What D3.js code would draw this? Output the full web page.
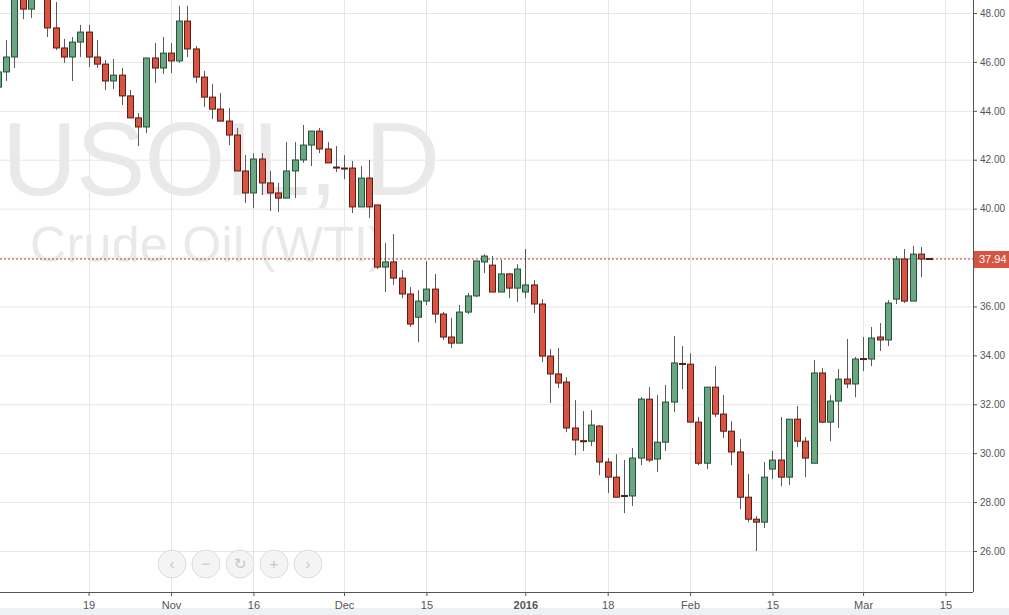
<!DOCTYPE html>
<html><head><meta charset="utf-8">
<script src="https://cdn.jsdelivr.net/npm/d3@7"></script>
<style>body{margin:0;background:#fff;font-family:Arial,"Liberation Sans",sans-serif}</style>
</head><body><svg id="c" width="1009" height="615"></svg>
<script>
const opens  = [44.97,45.59,46.20,48.70,48.16,49.20,48.60,47.39,46.57,46.20,46.81,47.22,46.20,45.91,45.22,45.46,44.61,43.71,43.34,46.16,45.75,46.36,46.04,47.67,46.53,45.38,44.56,44.07,43.58,43.01,41.54,40.64,42.03,41.05,40.64,40.43,41.54,41.99,42.60,43.17,42.44,41.70,41.66,41.66,40.07,41.25,40.15,37.61,37.82,37.16,36.51,35.56,36.22,36.71,35.69,34.75,34.50,35.77,36.43,37.82,37.69,36.59,37.33,36.75,36.59,36.88,36.10,33.97,33.24,32.91,31.03,30.51,30.49,31.11,29.64,29.02,28.27,28.25,29.80,32.21,29.76,30.45,32.09,33.67,33.64,31.27,29.59,32.70,31.60,30.90,30.05,28.20,27.30,27.18,29.35,29.72,29.02,31.39,30.49,29.59,33.28,31.27,32.13,33.03,32.83,33.87,33.85,34.75,34.63,36.30,37.94,36.22,38.14,37.96];
const highs  = [45.63,46.90,48.90,48.90,48.80,50.00,48.80,48.45,46.94,47.02,47.51,47.51,46.90,46.08,46.12,45.75,44.85,43.91,46.16,46.77,47.02,46.77,48.29,48.29,46.65,45.63,45.10,44.73,44.11,43.30,42.19,42.27,42.27,41.54,41.05,42.72,42.72,43.42,43.17,43.30,42.72,42.56,42.19,41.95,41.74,41.99,40.15,38.59,38.96,37.49,36.79,36.67,37.86,37.33,35.77,35.53,36.06,36.55,37.86,38.14,38.06,37.90,37.37,37.73,38.35,37.08,36.30,34.26,34.30,33.11,32.17,31.72,31.76,31.15,29.80,29.96,29.72,30.21,32.29,32.70,32.38,32.79,34.79,34.38,34.09,31.48,32.70,33.56,32.38,31.31,30.58,29.15,27.43,29.64,30.09,31.48,31.39,31.93,30.66,33.81,33.48,32.38,33.44,34.67,33.93,34.75,35.16,35.32,36.26,38.06,38.35,38.47,38.43,37.98];
const lows   = [44.89,45.22,45.75,47.75,47.80,48.75,47.02,46.49,45.96,45.22,46.20,45.79,45.75,44.85,44.89,44.24,43.71,42.56,43.09,45.14,45.51,45.55,45.96,46.20,45.14,44.16,43.66,43.58,42.60,41.54,40.23,40.02,40.56,39.90,39.86,40.43,40.43,41.87,41.74,42.27,41.87,41.50,41.21,39.82,40.07,39.62,37.53,36.59,36.88,36.34,35.16,34.54,36.06,35.32,34.63,34.30,34.50,35.69,36.38,37.37,36.59,36.59,36.34,36.18,36.34,35.73,33.73,32.05,32.66,30.86,29.92,30.09,30.29,29.10,28.37,28.20,27.55,27.84,29.51,29.64,29.23,30.09,31.68,32.62,31.27,29.51,29.35,31.48,30.62,29.51,27.71,27.18,26.00,26.94,28.94,28.65,28.70,30.25,29.02,29.59,31.23,30.49,31.03,32.66,32.29,33.36,33.56,34.18,34.38,36.10,36.14,36.22,37.20,37.92];
const closes = [45.59,46.20,48.70,48.16,48.60,49.50,47.39,46.57,46.20,46.81,47.22,46.20,45.91,45.22,45.46,44.61,43.71,43.34,46.16,45.75,46.36,46.04,47.67,46.53,45.38,44.56,44.07,43.58,43.01,41.54,40.64,42.03,41.05,40.64,40.43,41.54,41.99,42.60,43.17,42.44,41.87,41.66,41.62,40.07,41.25,40.07,37.61,37.82,37.16,36.51,35.28,36.22,36.71,35.69,34.75,34.50,35.77,36.43,37.86,38.06,36.59,37.33,36.75,37.53,36.88,36.10,33.97,33.24,32.87,31.03,30.54,30.49,31.15,29.64,29.02,28.20,28.25,29.80,32.21,29.72,30.45,32.09,33.69,33.64,31.27,29.59,32.70,31.60,30.90,30.05,28.20,27.30,27.18,29.02,29.72,29.02,31.39,30.49,29.80,33.28,31.27,32.13,33.03,32.83,33.85,33.85,34.71,34.63,36.14,37.94,36.22,38.14,37.94,37.94];
const priceTicks = [26,28,30,32,34,36,38,40,42,44,46,48];
const dateTickIdx = [11,21,31,42,52,64,74,84,94,105,115];
const dateTickLabels = ["19","Nov","16","Dec","15","2016","18","Feb","15","Mar","15"];
const lastPrice = 37.94;

const svg = d3.select("#c");
const W=1009, plotR=973, axisY=592;
const x = d3.scaleLinear().domain([21,113]).range([171,929]);
const y = d3.scaleLinear().domain([26,48]).range([551,13]);

svg.append("rect").attr("x",0).attr("y",axisY+16).attr("width",W).attr("height",10).attr("fill","#eef0f2");
svg.append("defs").append("clipPath").attr("id","cp").append("rect").attr("x",0).attr("y",0).attr("width",plotR).attr("height",axisY);

const g = svg.append("g").attr("clip-path","url(#cp)");
g.selectAll("line.h").data(priceTicks.concat([24])).enter().append("line")
 .attr("x1",0).attr("x2",plotR).attr("y1",d=>y(d)+0.5).attr("y2",d=>y(d)+0.5).attr("stroke","#e6e6e6");
g.selectAll("line.v").data(dateTickIdx).enter().append("line")
 .attr("y1",0).attr("y2",axisY).attr("x1",d=>Math.round(x(d))+0.5).attr("x2",d=>Math.round(x(d))+0.5).attr("stroke","#e6e6e6");

g.append("text").attr("x",2).attr("y",195).attr("font-size",104).attr("fill","#e9e9e9").attr("textLength",438).text("USOIL, D");
g.append("text").attr("x",30).attr("y",262).attr("font-size",50).attr("fill","#e9e9e9").attr("textLength",355).text("Crude Oil (WTI)");

g.append("line").attr("x1",0).attr("x2",plotR).attr("y1",y(lastPrice)).attr("y2",y(lastPrice))
 .attr("stroke","#c0392b").attr("stroke-dasharray","2,2").attr("stroke-width",1);

const data = opens.map((o,i)=>({i,o,h:highs[i],l:lows[i],c:closes[i]}));
const cg = g.append("g");
cg.selectAll("line.w").data(data).enter().append("line")
 .attr("x1",d=>Math.round(x(d.i))+0.5).attr("x2",d=>Math.round(x(d.i))+0.5)
 .attr("y1",d=>y(d.h)).attr("y2",d=>y(d.l)).attr("stroke","#5a5a5a");
cg.selectAll("rect.b").data(data).enter().append("rect")
 .attr("x",d=>Math.round(x(d.i))-2.5).attr("width",6)
 .attr("y",d=>y(Math.max(d.o,d.c))).attr("height",d=>Math.max(1,Math.abs(y(d.o)-y(d.c))))
 .attr("fill",d=>d.c>=d.o?"#6ba583":"#d75442")
 .attr("stroke",d=>d.c>=d.o?"#225437":"#5b1a13").attr("stroke-width",1);

const nav = ["‹","−","↻","+","›"];
const ng = svg.append("g");
nav.forEach((s,k)=>{
  const cx=172+k*34;
  ng.append("circle").attr("cx",cx).attr("cy",564).attr("r",14).attr("fill","#f4f4f4").attr("stroke","#dcdcdc");
  ng.append("text").attr("x",cx).attr("y",569).attr("text-anchor","middle").attr("font-size",15).attr("fill","#c8c8c8").text(s);
});

const yAxis = d3.axisRight(y).tickValues(priceTicks).tickFormat(d3.format(".2f")).tickSize(4);
const ya = svg.append("g").attr("transform",`translate(${plotR},0)`).call(yAxis);
ya.select(".domain").attr("stroke","#555").attr("d",`M0.5,0V${axisY}`);
ya.selectAll(".tick line").attr("stroke","#555");
ya.selectAll("text").attr("font-size",10).attr("fill","#555").attr("x",7).attr("font-family","Arial,Liberation Sans");

const xAxis = d3.axisBottom(x).tickValues(dateTickIdx).tickFormat((d,k)=>dateTickLabels[k]).tickSize(4);
const xa = svg.append("g").attr("transform",`translate(0,${axisY})`).call(xAxis);
xa.select(".domain").attr("stroke","#555").attr("d",`M0,0.5H${plotR}`);
xa.selectAll(".tick line").attr("stroke","#555");
xa.selectAll("text").attr("font-size",11).attr("fill","#555").attr("dy","0.9em").attr("font-family","Arial,Liberation Sans")
  .attr("font-weight",(d,k)=>dateTickLabels[k]==="2016"?"bold":null);

svg.append("rect").attr("x",plotR+1).attr("y",y(lastPrice)-8).attr("width",W-plotR-1).attr("height",17).attr("fill","#d75442");
svg.append("text").attr("x",plotR+6).attr("y",y(lastPrice)+4).attr("font-size",11).attr("fill","#fff").attr("font-family","Arial,Liberation Sans").text(lastPrice.toFixed(2));
</script></body></html>
